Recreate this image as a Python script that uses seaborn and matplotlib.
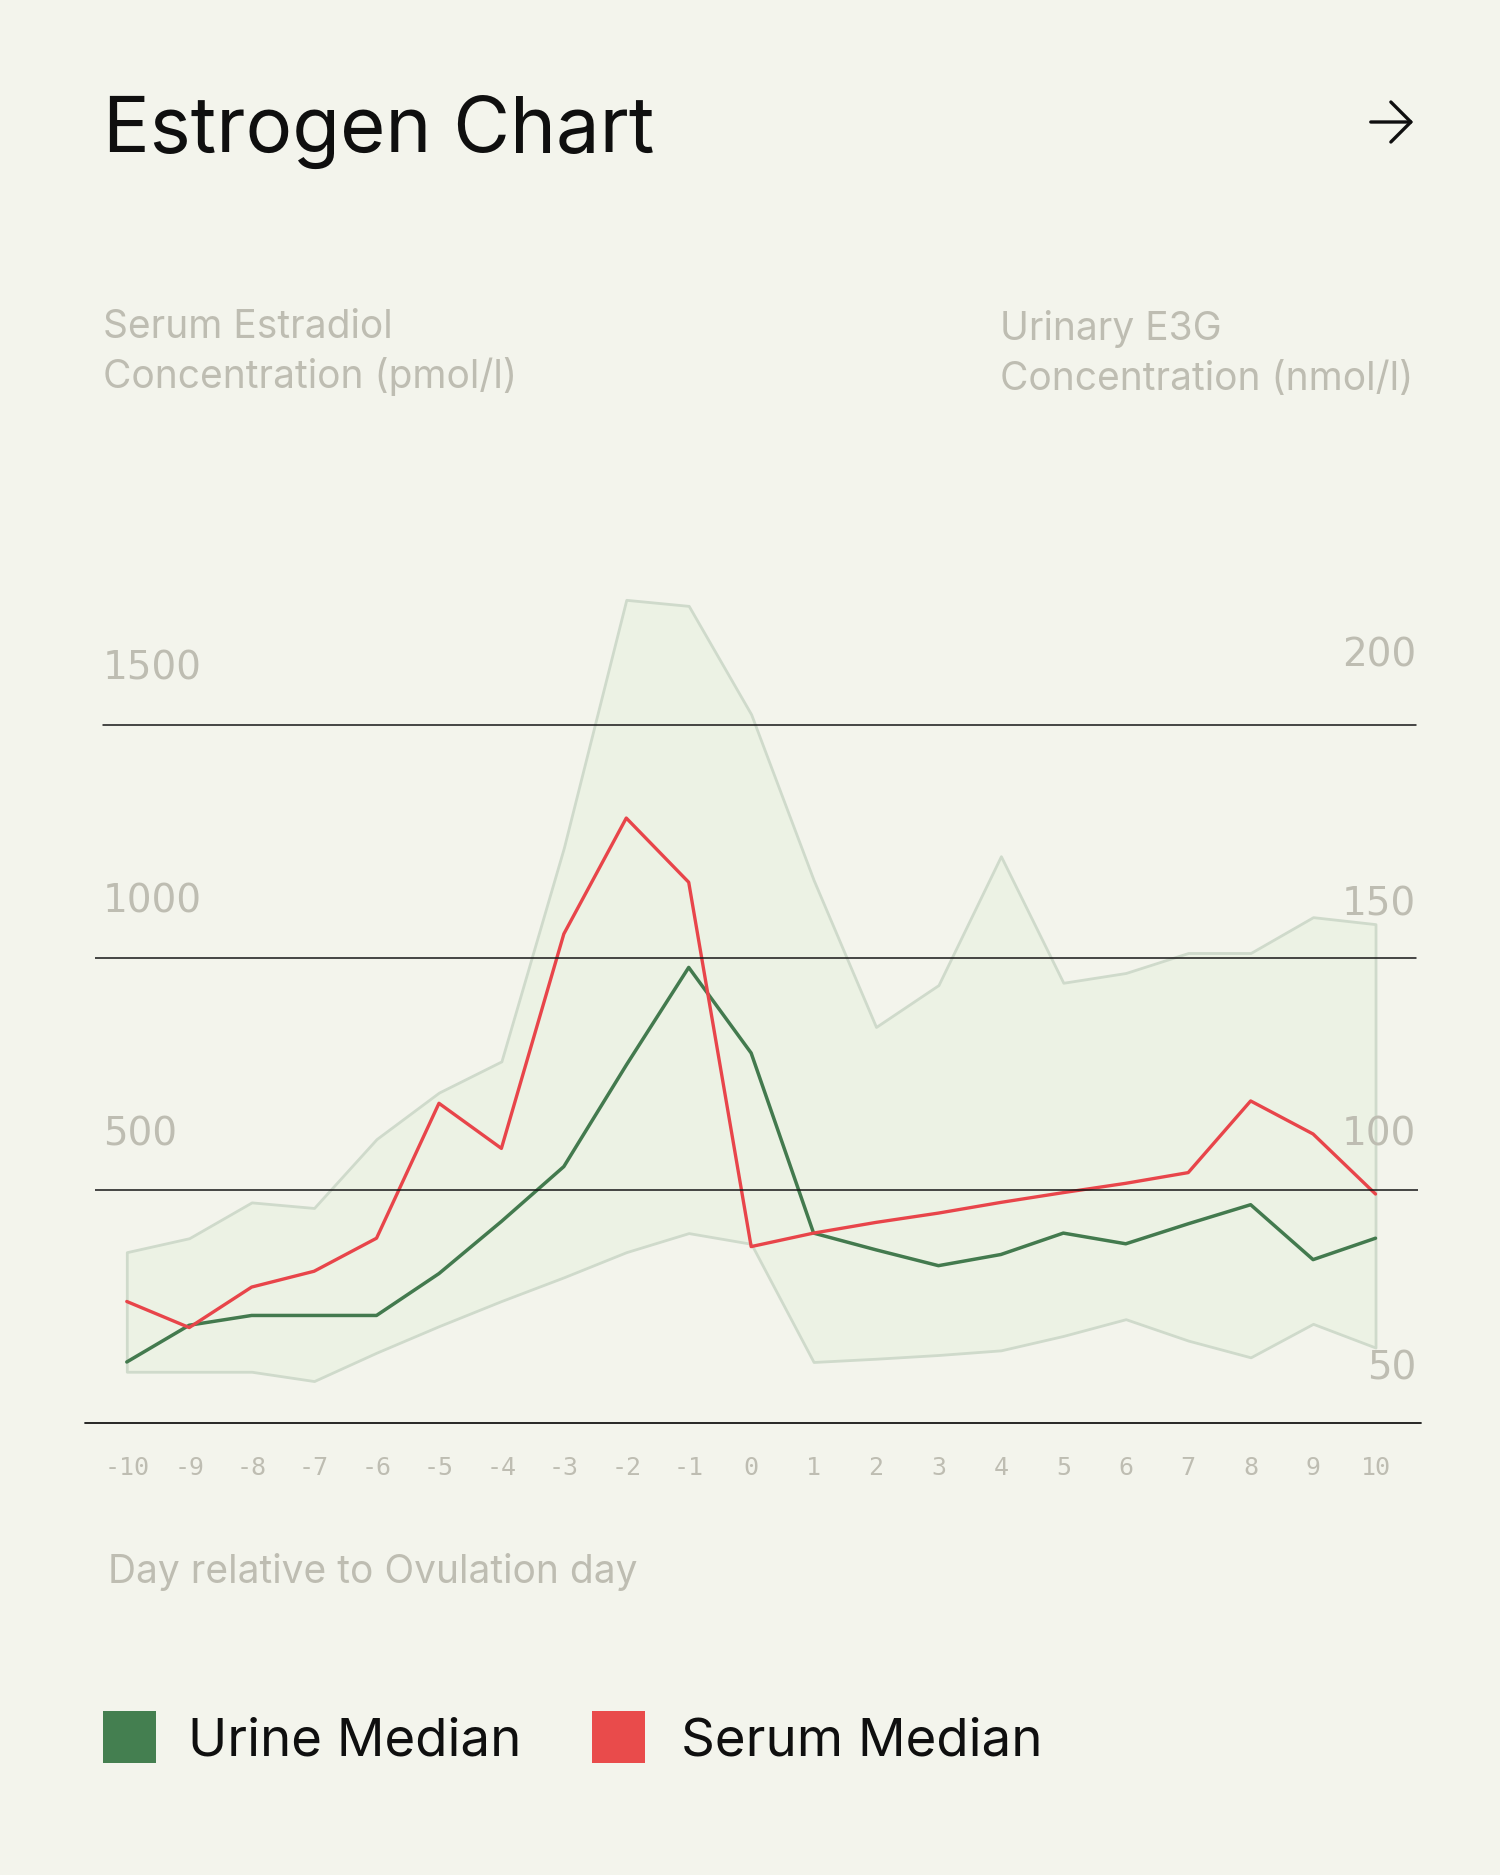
import numpy as np
import pandas as pd
import matplotlib
matplotlib.use('Agg')
import matplotlib.pyplot as plt
from matplotlib.patches import Rectangle
import seaborn as sns

# values
days = list(range(-10, 11))
serum_median = [261, 205, 292, 326, 397, 687, 590, 1051, 1300, 1162, 379,
                408, 431, 451, 474, 495, 515, 538, 692, 621, 492]
urine_median = [63.1, 71.0, 73.1, 73.1, 73.1, 82.1, 93.3, 105.1, 126.9, 147.9, 129.5,
                90.8, 87.2, 83.8, 86.2, 90.8, 88.5, 92.8, 96.9, 85.1, 89.7]
urine_upper = [86.7, 89.7, 97.4, 96.2, 111.0, 121.0, 127.7, 173.6, 226.9, 225.6, 202.3,
               166.7, 135.1, 144.1, 171.8, 144.6, 146.7, 151.0, 151.0, 158.7, 157.2]
urine_lower = [61.0, 61.0, 61.0, 59.0, 65.1, 70.8, 76.2, 81.3, 86.7, 90.8, 88.5,
               63.1, 63.8, 64.6, 65.6, 68.7, 72.3, 67.7, 64.1, 71.3, 66.2]
serum_ticks = [500, 1000, 1500]
urine_ticks = [50, 100, 150, 200]
day_labels = [str(d) for d in days]

df = pd.DataFrame({'day': days, 'serum': serum_median, 'urine': urine_median})

BG = '#F3F4EC'
GRAY = '#BEBDB2'
GREEN = '#437A4E'
RED = '#E8454A'
NUM_FONT = ['DejaVu Sans']

sns.set_theme(style='white')
plt.rcParams['font.family'] = ['Inter', 'DejaVu Sans']
plt.rcParams['figure.facecolor'] = BG

fig = plt.figure(figsize=(15, 18.75), dpi=100)
ax2 = fig.add_axes([0.063, 0.2411, 0.8824, 0.4581])   # urine axis (behind)
ax = ax2.twinx()                                       # serum axis (front)
ax.set_position(ax2.get_position())
ax.set_zorder(ax2.get_zorder() + 1)
for a in (ax, ax2):
    a.patch.set_visible(False)
    for s in a.spines.values():
        s.set_visible(False)

serum_top = 1846
ax.set_ylim(0, serum_top)
ax2.set_ylim(50, 50 + serum_top / 10)
ax2.set_xlim(-10.517, 10.682)
ax.set_xlim(-10.517, 10.682)

# urine range band + medians
ax2.fill_between(days, urine_lower, urine_upper, facecolor='#ECF2E4',
                 edgecolor='#CFDACB', linewidth=2.0)
sns.lineplot(data=df, x='day', y='urine', ax=ax2, color=GREEN, linewidth=2.5)
sns.lineplot(data=df, x='day', y='serum', ax=ax, color=RED, linewidth=2.4)

# horizontal rules
ax.axhline(1500, xmin=0.0064, xmax=0.9985, color='#161616', lw=1.1)
ax.axhline(1000, xmin=0.0, xmax=0.9985, color='#161616', lw=1.1)
ax.axhline(500, xmin=0.0, xmax=1.0, color='#161616', lw=1.1)
ax.axhline(0, xmin=-0.007, xmax=1.0025, color='#161616', lw=1.3, clip_on=False)

# y value labels sit above the rules
ax.set_yticks([])
ax2.set_yticks([])
ax.set_ylabel('')
ax2.set_ylabel('')
for v in serum_ticks:
    ax.annotate(str(v), xy=(0.0687, v), xycoords=('figure fraction', 'data'),
                xytext=(0, 45), textcoords='offset pixels', va='baseline',
                ha='left', fontsize=28, color=GRAY, family=NUM_FONT)
for v, off in zip(urine_ticks, [43, 45, 42, 58]):
    ax2.annotate(str(v), xy=(0.944, v), xycoords=('figure fraction', 'data'),
                 xytext=(0, off), textcoords='offset pixels', va='baseline',
                 ha='right', fontsize=28, color=GRAY, family=NUM_FONT)

# day ticks
ax2.set_xticks(days)
ax2.set_xticklabels(day_labels, fontsize=18, color=GRAY,
                    family=['DejaVu Sans Mono'])
ax2.tick_params(axis='x', length=0, pad=24)
ax.tick_params(axis='x', length=0, labelbottom=False)
ax2.set_xlabel('')
ax.set_xlabel('')

H = 1875
fig.text(0.0687, 1 - 152 / H, 'Estrogen Chart', fontsize=56, color='#0F0F0F', va='baseline')
fig.text(0.0687, 1 - 338 / H, 'Serum Estradiol', fontsize=28, color=GRAY, va='baseline')
fig.text(0.0687, 1 - 388 / H, 'Concentration (pmol/l)', fontsize=28, color=GRAY, va='baseline')
fig.text(0.6667, 1 - 340 / H, 'Urinary E3G', fontsize=28, color=GRAY, va='baseline')
fig.text(0.6667, 1 - 390 / H, 'Concentration (nmol/l)', fontsize=28, color=GRAY, va='baseline')
fig.text(0.072, 1 - 1583 / H, 'Day relative to Ovulation day', fontsize=28, color=GRAY, va='baseline')

# arrow top right
fig.add_artist(matplotlib.patches.FancyArrowPatch(
    (0.912, 1 - 122 / H), (0.944, 1 - 122 / H), transform=fig.transFigure,
    arrowstyle='->,head_length=0.36,head_width=0.36', mutation_scale=40,
    lw=2.4, color='#0F0F0F'))

# legend
for x0, col, lab, tx in [(103, '#447F50', 'Urine Median', 188),
                         (592, '#E94B4B', 'Serum Median', 681)]:
    fig.add_artist(Rectangle((x0 / 1500, 1 - 1763 / H), 53 / 1500, 52 / H,
                             transform=fig.transFigure, facecolor=col, edgecolor='none'))
    fig.text(tx / 1500, 1 - 1755 / H, lab, fontsize=38, color='#0F0F0F', va='baseline')

fig.savefig('out.png', dpi=100, facecolor=BG)
